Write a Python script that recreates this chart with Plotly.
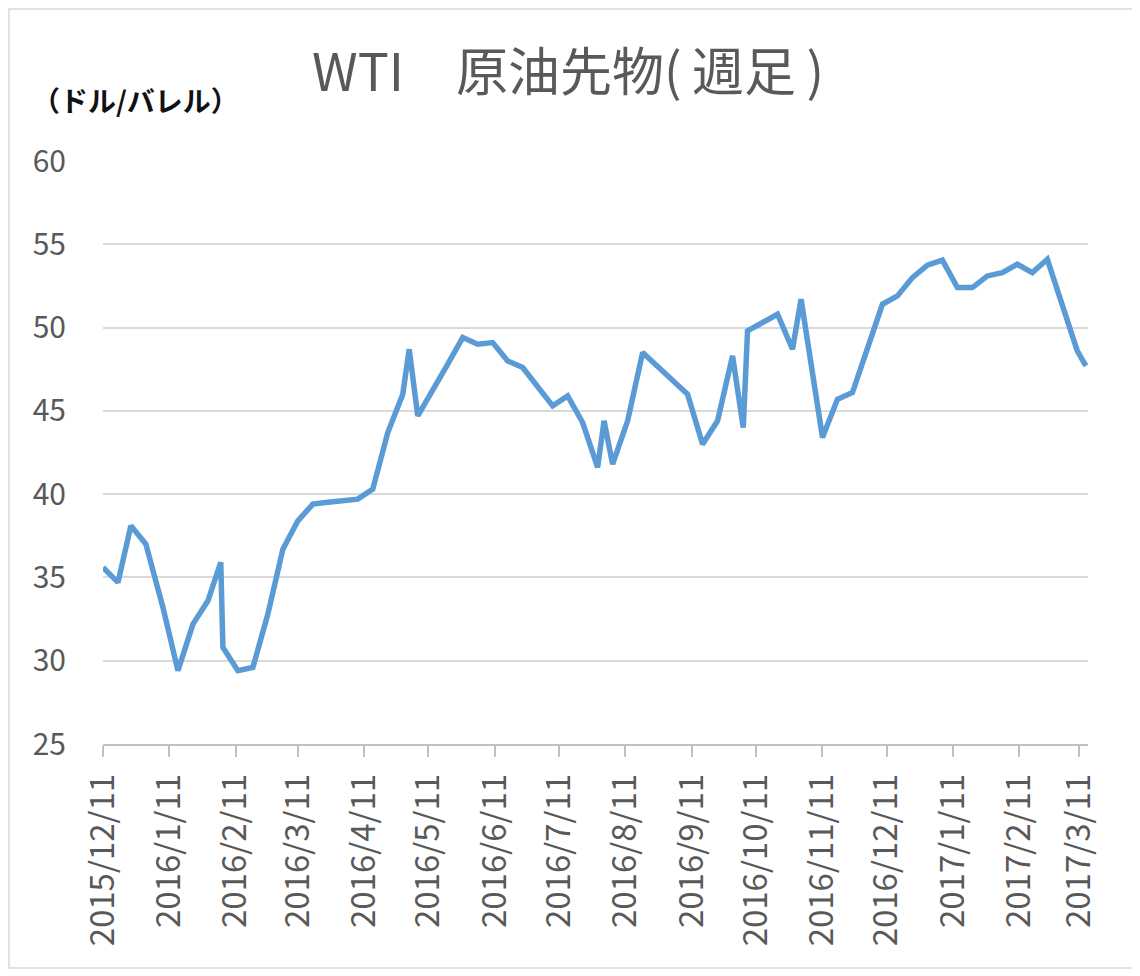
import plotly.graph_objects as go

dates = [
    "2015-12-11", "2015-12-18", "2015-12-24", "2015-12-31", "2016-01-08", "2016-01-15",
    "2016-01-22", "2016-01-29", "2016-02-04", "2016-02-05", "2016-02-12", "2016-02-19",
    "2016-02-26", "2016-03-04", "2016-03-11", "2016-03-18", "2016-03-24", "2016-04-01",
    "2016-04-08", "2016-04-15", "2016-04-22", "2016-04-29", "2016-05-02", "2016-05-06",
    "2016-05-13", "2016-05-20", "2016-05-27", "2016-06-03", "2016-06-10", "2016-06-17",
    "2016-06-24", "2016-07-01", "2016-07-08", "2016-07-15", "2016-07-22", "2016-07-29",
    "2016-08-01", "2016-08-05", "2016-08-12", "2016-08-19", "2016-08-26", "2016-09-02",
    "2016-09-09", "2016-09-16", "2016-09-23", "2016-09-30", "2016-10-05", "2016-10-07",
    "2016-10-14", "2016-10-21", "2016-10-28", "2016-11-01", "2016-11-11", "2016-11-18",
    "2016-11-25", "2016-12-02", "2016-12-09", "2016-12-16", "2016-12-23", "2016-12-30",
    "2017-01-06", "2017-01-13", "2017-01-20", "2017-01-27", "2017-02-03", "2017-02-10",
    "2017-02-17", "2017-02-24", "2017-03-03", "2017-03-10", "2017-03-14",
]
prices = [
    35.6, 34.7, 38.1, 37.0, 33.2, 29.4,
    32.2, 33.6, 35.9, 30.8, 29.4, 29.6,
    32.8, 36.7, 38.4, 39.4, 39.5, 39.6,
    39.7, 40.3, 43.7, 46.0, 48.7, 44.7,
    46.2, 47.8, 49.4, 49.0, 49.1, 48.0,
    47.6, 46.4, 45.3, 45.9, 44.3, 41.6,
    44.4, 41.8, 44.4, 48.5, 47.7, 46.9,
    46.0, 43.0, 44.4, 48.3, 44.0, 49.8,
    50.3, 50.8, 48.7, 51.7, 43.4, 45.7,
    46.1, 48.8, 51.4, 51.9, 53.0, 53.75,
    54.05, 52.4, 52.4, 53.1, 53.3, 53.8,
    53.3, 54.1, 51.4, 48.6, 47.7,
]
tick_dates = [
    "2015-12-11", "2016-01-11", "2016-02-11", "2016-03-11", "2016-04-11", "2016-05-11",
    "2016-06-11", "2016-07-11", "2016-08-11", "2016-09-11", "2016-10-11", "2016-11-11",
    "2016-12-11", "2017-01-11", "2017-02-11", "2017-03-11",
]
tick_text = [
    "2015/12/11", "2016/1/11", "2016/2/11", "2016/3/11", "2016/4/11", "2016/5/11",
    "2016/6/11", "2016/7/11", "2016/8/11", "2016/9/11", "2016/10/11", "2016/11/11",
    "2016/12/11", "2017/1/11", "2017/2/11", "2017/3/11",
]
title_text = "WTI\u3000原油先物(\u2009週足\u2009)"
unit_text = "<b>（ドル/バレル）</b>"

FONT = "Noto Sans CJK JP"

fig = go.Figure()
fig.add_trace(go.Scatter(
    x=dates, y=prices, mode="lines",
    line=dict(color="#5b9bd5", width=5.5, shape="linear"),
    showlegend=False, hoverinfo="x+y",
))

# page body has an 8px margin; figure sized to fit the window
OFF = 8
W, H = 1140 - OFF, 976 - OFF
L, T = 103 - OFF, 161 - OFF
R = W - (1088 - OFF)
B = H - (744 - OFF)
pw = W - L - R
ph = H - T - B


def px_x(p):
    return (p - OFF - L) / pw


def px_y(p):
    return (H - B - (p - OFF)) / ph


fig.update_layout(
    width=W, height=H,
    margin=dict(l=L, r=R, t=T, b=B),
    paper_bgcolor="white", plot_bgcolor="white",
    font=dict(family=FONT, color="#595959", size=30),
    xaxis=dict(
        type="date",
        range=["2015-12-11", "2017-03-15"],
        tickmode="array", tickvals=tick_dates, ticktext=tick_text,
        tickangle=-90,
        showgrid=False, zeroline=False,
        showline=True, linecolor="#bfbfbf", linewidth=1.5,
        ticks="outside", ticklen=11, tickcolor="#bfbfbf", tickwidth=1.5,
        ticklabelstandoff=4,
        tickfont=dict(family=FONT, size=33, color="#595959"),
    ),
    yaxis=dict(
        range=[25, 60], dtick=5, tick0=25,
        showgrid=True, gridcolor="#d9d9d9", gridwidth=1.5,
        zeroline=False, showline=False, ticks="",
        ticklabelstandoff=36,
        tickfont=dict(family=FONT, size=30, color="#595959"),
    ),
    shapes=[dict(
        type="rect", xref="paper", yref="paper",
        x0=px_x(OFF + 1), x1=px_x(1137), y0=px_y(968), y1=px_y(OFF + 1),
        line=dict(color="#d9d9d9", width=1.5), fillcolor="rgba(0,0,0,0)",
        layer="below",
    )],
    annotations=[
        dict(text=title_text, xref="paper", yref="paper",
             x=px_x(568), y=px_y(68), xanchor="center", yanchor="middle",
             showarrow=False, font=dict(family=FONT, size=52, color="#595959")),
        dict(text=unit_text, xref="paper", yref="paper",
             x=px_x(30), y=px_y(100), xanchor="left", yanchor="middle",
             showarrow=False, font=dict(family=FONT, size=28, color="#111111")),
    ],
)

fig.write_html("out.html")
